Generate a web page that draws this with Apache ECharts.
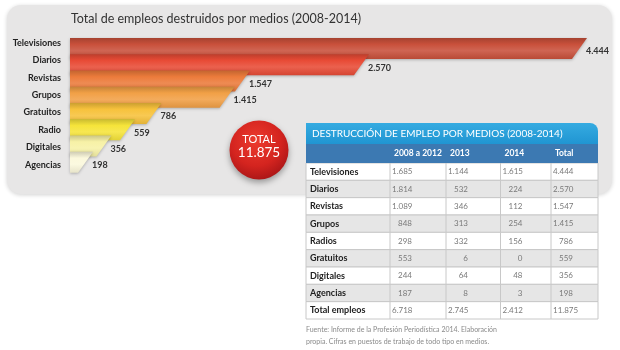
<!DOCTYPE html>
<html>
<head>
<meta charset="utf-8">
<script src="https://cdn.jsdelivr.net/npm/echarts@6/dist/echarts.min.js"></script>
<style>
html, body { margin: 0; padding: 0; background: #fff; }
#chart { width: 620px; height: 350px; }
</style>
</head>
<body>
<div id="chart"></div>
<script>
// bar chart (labels as printed in the picture)
var barCategories = ['Televisiones', 'Diarios', 'Revistas', 'Grupos', 'Gratuitos', 'Radio', 'Digitales', 'Agencias'];
var barValues = [4444, 2570, 1547, 1415, 786, 559, 356, 198];
var barColors = ['#c9503b', '#e84b36', '#ec7b3b', '#f1a046', '#f7c23c', '#f6e43a', '#f7f1a6', '#fbf8dc'];

// table
var tableColumns = ['2008 a 2012', '2013', '2014', 'Total'];
var tableRows = ['Televisiones', 'Diarios', 'Revistas', 'Grupos', 'Radios', 'Gratuitos', 'Digitales', 'Agencias', 'Total empleos'];
var col2008to2012 = [1685, 1814, 1089, 848, 298, 553, 244, 187, 6718];
var col2013 = [1144, 532, 346, 313, 332, 6, 64, 8, 2745];
var col2014 = [1615, 224, 112, 254, 156, 0, 48, 3, 2412];
var colTotal = [4444, 2570, 1547, 1415, 786, 559, 356, 198, 11875];

var FONT = 'Lato, "Open Sans", sans-serif';

function fmt(n) {
    return String(n).replace(/\B(?=(\d{3})+(?!\d))/g, '.');
}

function shade(hex, f) {
    var n = parseInt(hex.slice(1), 16);
    var r = (n >> 16) & 255, g = (n >> 8) & 255, b = n & 255;
    function c(v) {
        v = f < 0 ? v * (1 + f) : v + (255 - v) * f;
        return Math.round(v);
    }
    return 'rgb(' + c(r) + ',' + c(g) + ',' + c(b) + ')';
}

// table column edges, in px from the table's left side
var colEdges = [0, 84, 140, 194.5, 245, 292];

var chart = echarts.init(document.getElementById('chart'));

var option = {
    animation: false,
    grid: [
        { left: 70, right: 33, top: 38, height: 130 },   // bars
        { left: 64, right: 33, top: 34, height: 139.5 }, // category labels
        { left: 306, top: 163, width: 292, height: 156 } // table body
    ],
    xAxis: [
        { gridIndex: 0, type: 'value', min: 0, max: 4444, show: false },
        { gridIndex: 1, type: 'value', min: 0, max: 1, show: false },
        { gridIndex: 2, type: 'value', min: 0, max: 292, show: false }
    ],
    yAxis: [
        { gridIndex: 0, type: 'category', data: barCategories, inverse: true, show: false },
        {
            gridIndex: 1, type: 'category', data: barCategories, inverse: true,
            axisLine: { show: false }, axisTick: { show: false },
            axisLabel: { margin: 3, color: '#222', fontFamily: FONT, fontWeight: 'bold', fontSize: 9 }
        },
        { gridIndex: 2, type: 'category', data: tableRows, inverse: true, show: false }
    ],
    graphic: [
        {
            type: 'rect', z: -10,
            shape: { x: 7, y: 5, width: 605, height: 189, r: 14 },
            style: { fill: '#e7e6e6', shadowBlur: 4, shadowColor: 'rgba(0,0,0,0.18)', shadowOffsetY: 1 }
        },
        {
            type: 'text', z: 100, x: 71, y: 19,
            style: { text: 'Total de empleos destruidos por medios (2008-2014)', font: '12.5px ' + FONT, fill: '#333', verticalAlign: 'middle' }
        },
        {
            type: 'circle', z: 100,
            shape: { cx: 259, cy: 150, r: 29.5 },
            style: {
                fill: new echarts.graphic.RadialGradient(0.45, 0.35, 0.7, [
                    { offset: 0, color: '#ec3b2e' },
                    { offset: 0.6, color: '#d4241f' },
                    { offset: 1, color: '#a51416' }
                ]),
                shadowBlur: 6, shadowColor: 'rgba(0,0,0,0.35)', shadowOffsetY: 3
            }
        },
        {
            type: 'text', z: 101, x: 259, y: 139,
            style: { text: 'TOTAL', font: '11px ' + FONT, fill: '#fff', align: 'center', verticalAlign: 'middle' }
        },
        {
            type: 'text', z: 101, x: 259, y: 153,
            style: { text: fmt(colTotal[colTotal.length - 1]), font: '13.5px ' + FONT, fill: '#fff', align: 'center', verticalAlign: 'middle' }
        },
        // table header
        {
            type: 'rect', z: 100,
            shape: { x: 306, y: 123, width: 292, height: 21, r: [0, 8, 0, 0] },
            style: { fill: new echarts.graphic.LinearGradient(0, 0, 0, 1, [
                { offset: 0, color: '#35abe1' }, { offset: 1, color: '#2095d2' }
            ]) }
        },
        {
            type: 'text', z: 101, x: 312, y: 133.5,
            style: { text: 'DESTRUCCIÓN DE EMPLEO POR MEDIOS (2008-2014)', font: '10px ' + FONT, fill: '#fff', verticalAlign: 'middle' }
        },
        {
            type: 'rect', z: 100,
            shape: { x: 306, y: 144, width: 292, height: 19 },
            style: { fill: '#3c79b2' }
        }
    ].concat(tableColumns.map(function (c, j) {
        return {
            type: 'text', z: 101, x: 306 + colEdges[j + 1] + 4, y: 153,
            style: { text: c, font: 'bold 8.5px ' + FONT, fill: '#fff', verticalAlign: 'middle' }
        };
    })).concat([
        {
            type: 'text', z: 100, x: 306, y: 330,
            style: { text: 'Fuente: Informe de la Profesión Periodística 2014. Elaboración', font: '7px ' + FONT, fill: '#8a8a8a', verticalAlign: 'middle' }
        },
        {
            type: 'text', z: 100, x: 306, y: 342,
            style: { text: 'propia. Cifras en puestos de trabajo de todo tipo en medios.', font: '7px ' + FONT, fill: '#8a8a8a', verticalAlign: 'middle' }
        }
    ]),
    series: [
        {
            type: 'custom',
            xAxisIndex: 0, yAxisIndex: 0,
            data: barValues.map(function (v, i) { return [v, i]; }),
            encode: { x: 0, y: 1 },
            renderItem: function (params, api) {
                var v = api.value(0), i = api.value(1);
                var p0 = api.coord([0, i]);
                var p1 = api.coord([v, i]);
                var band = api.size([0, 1])[1];
                var top = p0[1] - band / 2;
                var h = 21, slant = 15;
                var base = barColors[i];
                return {
                    type: 'group',
                    children: [
                        {
                            type: 'polygon',
                            shape: { points: [[p0[0], top], [p1[0], top], [p1[0] - slant, top + h], [p0[0], top + h]] },
                            style: {
                                fill: new echarts.graphic.LinearGradient(0, 0, 0, 1, [
                                    { offset: 0, color: shade(base, -0.18) },
                                    { offset: 0.3, color: base },
                                    { offset: 0.6, color: shade(base, 0.12) },
                                    { offset: 1, color: shade(base, -0.08) }
                                ]),
                                shadowBlur: 3, shadowColor: 'rgba(0,0,0,0.25)', shadowOffsetY: 1
                            }
                        },
                        {
                            type: 'text', z2: 10,
                            style: {
                                text: fmt(v), x: p1[0] - 1, y: top + 13.5,
                                font: 'bold 9px ' + FONT, fill: '#333', verticalAlign: 'middle'
                            }
                        }
                    ]
                };
            }
        },
        {
            type: 'custom',
            xAxisIndex: 2, yAxisIndex: 2,
            data: tableRows.map(function (r, i) { return [0, i]; }),
            encode: { x: 0, y: 1 },
            renderItem: function (params, api) {
                var i = api.value(1);
                var c = api.coord([0, i]);
                var band = api.size([0, 1])[1];
                var top = c[1] - band / 2;
                var x0 = c[0];
                var cols = [col2008to2012, col2013, col2014, colTotal];
                var children = [
                    {
                        type: 'rect',
                        shape: { x: x0, y: top, width: colEdges[5], height: band },
                        style: { fill: i % 2 ? '#e6e6e6' : '#fff', stroke: '#c8c8c8', lineWidth: 1 }
                    },
                    {
                        type: 'text',
                        style: { text: tableRows[i], x: x0 + 4, y: top + band / 2, font: 'bold 9px ' + FONT, fill: '#222', verticalAlign: 'middle' }
                    }
                ];
                for (var j = 0; j < 4; j++) {
                    var ex = x0 + colEdges[j + 1];
                    children.push({
                        type: 'line',
                        shape: { x1: ex, y1: top, x2: ex, y2: top + band },
                        style: { stroke: '#c8c8c8', lineWidth: 1 }
                    });
                    var v = cols[j][i];
                    var big = v >= 1000;
                    children.push({
                        type: 'text',
                        style: {
                            text: fmt(v), x: big ? ex + 2 : ex + 22, y: top + band / 2,
                            align: big ? 'left' : 'right', verticalAlign: 'middle',
                            font: '8px ' + FONT, fill: '#7a7a7a'
                        }
                    });
                }
                return { type: 'group', children: children };
            }
        }
    ]
};

chart.setOption(option);
</script>
</body>
</html>
